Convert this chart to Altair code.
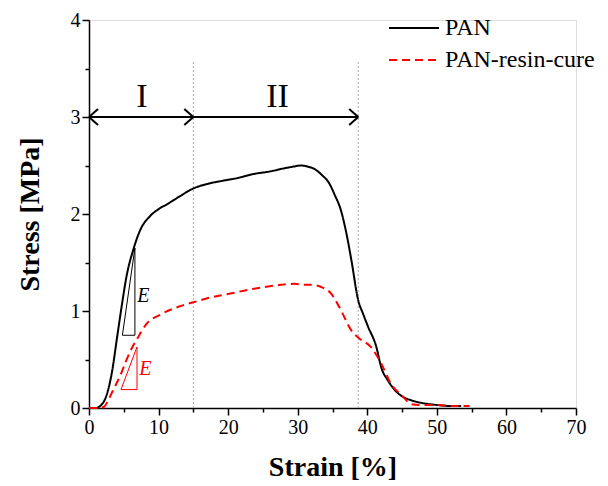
import altair as alt
import pandas as pd

# ---------------- data ----------------
pan_strain = [1.1, 1.6, 2.3, 2.8, 3.3, 4.0, 4.7, 5.4, 6.4, 7.4,
              8.8, 10.0, 11.2, 13.0, 14.9, 17.0, 19.0, 21.3, 23.5, 26.1,
              28.0, 29.5, 30.4, 31.4, 32.5, 33.5, 34.5, 35.3, 36.2, 37.0,
              37.7, 38.7, 39.4, 40.1, 41.3, 42.0, 43.0, 43.9, 45.0, 46.3,
              48.0, 50.2, 52.0, 53.5]
pan_stress = [0.0, 0.02, 0.09, 0.2, 0.37, 0.71, 1.05, 1.36, 1.64, 1.84,
              1.98, 2.05, 2.10, 2.18, 2.26, 2.31, 2.34, 2.37, 2.41, 2.44,
              2.47, 2.49, 2.50, 2.49, 2.46, 2.40, 2.32, 2.20, 2.04, 1.80,
              1.53, 1.11, 0.97, 0.84, 0.63, 0.42, 0.28, 0.19, 0.12, 0.08,
              0.05, 0.03, 0.02, 0.02]

cure_strain = [0.0, 1.0, 2.1, 2.7, 3.3, 4.0, 4.7, 5.3, 5.9, 6.9,
               8.3, 10.2, 13.1, 15.0, 17.5, 20.3, 23.0, 25.5, 27.6, 29.5,
               30.9, 32.0, 33.3, 34.8, 36.2, 37.7, 38.8, 40.5, 42.0, 43.4,
               45.1, 46.3, 48.0, 50.2, 52.5, 54.7]
cure_stress = [0.0, 0.0, 0.01, 0.07, 0.16, 0.26, 0.37, 0.48, 0.58, 0.71,
               0.87, 0.96, 1.05, 1.09, 1.14, 1.18, 1.22, 1.25, 1.27, 1.28,
               1.27, 1.27, 1.25, 1.18, 1.01, 0.80, 0.72, 0.63, 0.46, 0.25,
               0.12, 0.04, 0.03, 0.03, 0.02, 0.02]

series_names = ["PAN", "PAN-resin-cure"]
series_colors = ["#000000", "#ff0000"]
series_dash = [[1, 0], [8, 5]]

x_ticks = [0, 5, 10, 15, 20, 25, 30, 35, 40, 45, 50, 55, 60, 65, 70]
y_ticks = [0, 0.5, 1, 1.5, 2, 2.5, 3, 3.5, 4]

# regions I / II
region_bounds = [0.0, 15.0, 38.7]
region_labels = ["I", "II"]
region_label_x = [7.6, 27.1]
region_label_y = [3.21, 3.21]
arrow_y = 3.0
divider_top = 3.58
head_dx = 1.3
head_dy = 0.082

# modulus triangles (x, y vertices, closed)
tri_pan_x = [4.8, 6.6, 6.6, 4.8]
tri_pan_y = [0.75, 0.75, 1.65, 0.75]
tri_cure_x = [4.6, 6.9, 6.9, 4.6]
tri_cure_y = [0.19, 0.19, 0.63, 0.19]
e_label_x = [7.8, 8.1]
e_label_y = [1.15, 0.40]

FONT = "Liberation Serif"

# ---------------- tables ----------------
curves = pd.concat([
    pd.DataFrame({"strain": pan_strain, "stress": pan_stress, "series": series_names[0]}),
    pd.DataFrame({"strain": cure_strain, "stress": cure_stress, "series": series_names[1]}),
], ignore_index=True)

dividers = pd.DataFrame({"x": region_bounds[1:], "y": 0.0, "y2": divider_top})

seg = []
seg.append({"x": region_bounds[0], "x2": region_bounds[2], "y": arrow_y, "y2": arrow_y})
for s in (1, -1):
    seg.append({"x": region_bounds[0], "x2": region_bounds[0] + head_dx, "y": arrow_y, "y2": arrow_y + s * head_dy})
for xb in region_bounds[1:]:
    for s in (1, -1):
        seg.append({"x": xb, "x2": xb - head_dx, "y": arrow_y, "y2": arrow_y + s * head_dy})
arrows = pd.DataFrame(seg)

region_text = pd.DataFrame({"x": region_label_x, "y": region_label_y, "t": region_labels})

tri = pd.concat([
    pd.DataFrame({"x": tri_pan_x, "y": tri_pan_y, "o": range(4), "series": series_names[0]}),
    pd.DataFrame({"x": tri_cure_x, "y": tri_cure_y, "o": range(4), "series": series_names[1]}),
], ignore_index=True)
e_text = pd.DataFrame({"x": e_label_x, "y": e_label_y, "series": series_names, "t": ["E", "E"]})

# ---------------- scales / axes ----------------
xscale = alt.Scale(domain=[0, 70], nice=False, zero=False)
yscale = alt.Scale(domain=[0, 4], nice=False, zero=False)

common_axis = dict(
    grid=False, domainColor="black", domainWidth=1.5, tickColor="black", tickWidth=1.5,
    labelFont=FONT, labelFontSize=20, labelColor="black", labelFlush=False, labelOverlap=False,
    titleFont=FONT, titleFontSize=28, titleFontWeight="bold", titleColor="black",
)
x_axis = alt.Axis(
    values=x_ticks, title="Strain [%]",
    labelExpr="datum.value % 10 === 0 ? format(datum.value, 'd') : ''",
    tickSize={"condition": {"test": "datum.value % 10 === 0", "value": 7}, "value": 4},
    labelPadding=2, titlePadding=16, **common_axis)
y_axis = alt.Axis(
    values=y_ticks, title="Stress [MPa]",
    labelExpr="datum.value % 1 === 0 ? format(datum.value, 'd') : ''",
    tickSize={"condition": {"test": "datum.value % 1 === 0", "value": 7}, "value": 4},
    labelPadding=2, titlePadding=26, **common_axis)

X = lambda f="x": alt.X(f"{f}:Q", scale=xscale, axis=x_axis)
Y = lambda f="y": alt.Y(f"{f}:Q", scale=yscale, axis=y_axis)

legend = alt.Legend(
    orient="none", legendX=313, legendY=-4, title=None, padding=0,
    symbolType="M-2.5,0L2.5,0", symbolSize=400, symbolStrokeWidth=2,
    labelFont=FONT, labelFontSize=24, labelColor="black", labelOffset=19,
    rowPadding=8, labelLimit=300)

# ---------------- layers ----------------
divider_layer = alt.Chart(dividers).mark_rule(color="#aaaaaa", strokeDash=[2, 2], strokeWidth=1).encode(
    x=X("x"), y=Y("y"), y2="y2")

arrow_layer = alt.Chart(arrows).mark_rule(color="black", strokeWidth=2).encode(
    x=X("x"), x2="x2", y=Y("y"), y2="y2")

region_layer = alt.Chart(region_text).mark_text(font=FONT, fontSize=34, color="black", baseline="middle").encode(
    x=X("x"), y=Y("y"), text="t:N")

curve_layer = alt.Chart(curves).mark_line(strokeWidth=2, interpolate="monotone").encode(
    x=alt.X("strain:Q", scale=xscale, axis=x_axis),
    y=alt.Y("stress:Q", scale=yscale, axis=y_axis),
    color=alt.Color("series:N", scale=alt.Scale(domain=series_names, range=series_colors), legend=legend),
    strokeDash=alt.StrokeDash("series:N", scale=alt.Scale(domain=series_names, range=series_dash), legend=legend),
)

tri_layers = []
for name, col in zip(series_names, series_colors):
    tri_layers.append(
        alt.Chart(tri).transform_filter(alt.datum.series == name).mark_line(color=col, strokeWidth=1).encode(
            x=X("x"), y=Y("y"), order="o:Q"))
    tri_layers.append(
        alt.Chart(e_text).transform_filter(alt.datum.series == name).mark_text(
            font=FONT, fontSize=20, fontStyle="italic", color=col, baseline="middle").encode(
            x=X("x"), y=Y("y"), text="t:N"))

chart = alt.layer(divider_layer, arrow_layer, region_layer, *tri_layers, curve_layer).properties(
    width=487, height=388,
    autosize=alt.AutoSizeParams(type="none"),
    padding={"left": 89, "top": 20, "right": 32, "bottom": 78},
).configure_view(stroke=None).configure(background="white")

chart.save("out.html", embed_options={"renderer": "svg", "actions": False})
